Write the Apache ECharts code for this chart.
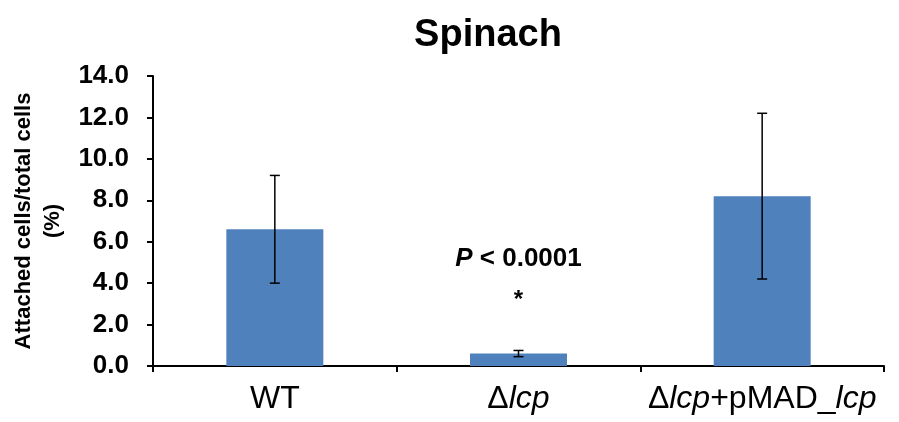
<!DOCTYPE html>
<html>
<head>
<meta charset="utf-8">
<script src="https://cdn.jsdelivr.net/npm/echarts@6/dist/echarts.min.js"></script>
<style>html,body{margin:0;padding:0;background:#fff}#c{width:899px;height:422px}</style>
</head>
<body>
<div id="c"></div>
<script>
const categories = ['WT', 'Δlcp', 'Δlcp+pMAD_lcp'];
const means = [6.6, 0.6, 8.2];
const errors = [2.6, 0.15, 4.0];
const yTicks = [0, 2, 4, 6, 8, 10, 12, 14];
const annotation = 'P < 0.0001';

const chart = echarts.init(document.getElementById('c'));
const FONT = '"Liberation Sans", Arial, sans-serif';

const catLabels = {
  'WT': 'WT',
  'Δlcp': '{n|Δ}{i|lcp}',
  'Δlcp+pMAD_lcp': '{n|Δ}{i|lcp}{n|+pMAD_}{i|lcp}'
};

chart.setOption({
  animation: false,
  backgroundColor: '#fff',
  title: {
    text: 'Spinach',
    left: 483,
    top: 12,
    textAlign: 'center',
    textStyle: { fontFamily: FONT, fontWeight: 'bold', fontSize: 38, color: '#000' }
  },
  grid: { left: 153, right: 15, top: 76, bottom: 56 },
  xAxis: {
    type: 'category',
    data: categories,
    axisLine: { lineStyle: { color: '#000', width: 2 } },
    axisTick: { show: true, length: 6, lineStyle: { color: '#000', width: 2 } },
    axisLabel: {
      interval: 0,
      hideOverlap: false,
      margin: 17,
      color: '#000',
      fontFamily: FONT,
      fontSize: 32,
      formatter: v => catLabels[v],
      rich: {
        n: { fontFamily: FONT, fontSize: 32, color: '#000' },
        i: { fontFamily: FONT, fontSize: 32, color: '#000', fontStyle: 'italic' }
      }
    }
  },
  yAxis: {
    type: 'value',
    min: yTicks[0],
    max: yTicks[yTicks.length - 1],
    interval: 2,
    name: 'Attached cells/total cells\n(%)',
    nameLocation: 'middle',
    nameGap: 79,
    nameTextStyle: { fontFamily: FONT, fontWeight: 'bold', fontSize: 22, color: '#000', lineHeight: 29 },
    splitLine: { show: false },
    axisLine: { show: true, lineStyle: { color: '#000', width: 2 } },
    axisTick: { show: true, length: 6, lineStyle: { color: '#000', width: 2 } },
    axisLabel: {
      margin: 24,
      color: '#000',
      fontFamily: FONT,
      fontWeight: 'bold',
      fontSize: 26,
      formatter: v => v.toFixed(1)
    }
  },
  series: [
    {
      type: 'bar',
      data: means.map((v, i) => i === 1 ? {
        value: v,
        label: {
          show: true,
          position: 'top',
          distance: 38,
          formatter: '{p|P}{b| < 0.0001}\n{s|*}',
          rich: {
            p: { fontFamily: FONT, fontWeight: 'bold', fontStyle: 'italic', fontSize: 26, color: '#000', lineHeight: 54 },
            b: { fontFamily: FONT, fontWeight: 'bold', fontSize: 26, color: '#000', lineHeight: 54 },
            s: { fontFamily: FONT, fontWeight: 'bold', fontSize: 24, color: '#000', lineHeight: 30 }
          }
        }
      } : v),
      barWidth: 97,
      itemStyle: { color: '#4F81BD' }
    },
    {
      type: 'custom',
      data: means.map((v, i) => [i, v - errors[i], v + errors[i]]),
      renderItem: (params, api) => {
        const lo = api.coord([api.value(0), api.value(1)]);
        const hi = api.coord([api.value(0), api.value(2)]);
        const w = 5;
        const s = { stroke: '#000', lineWidth: 1.5 };
        return {
          type: 'group',
          children: [
            { type: 'line', shape: { x1: lo[0], y1: lo[1], x2: hi[0], y2: hi[1] }, style: s },
            { type: 'line', shape: { x1: lo[0] - w, y1: lo[1], x2: lo[0] + w, y2: lo[1] }, style: s },
            { type: 'line', shape: { x1: hi[0] - w, y1: hi[1], x2: hi[0] + w, y2: hi[1] }, style: s }
          ]
        };
      },
      z: 5
    }
  ]
});
</script>
</body>
</html>
